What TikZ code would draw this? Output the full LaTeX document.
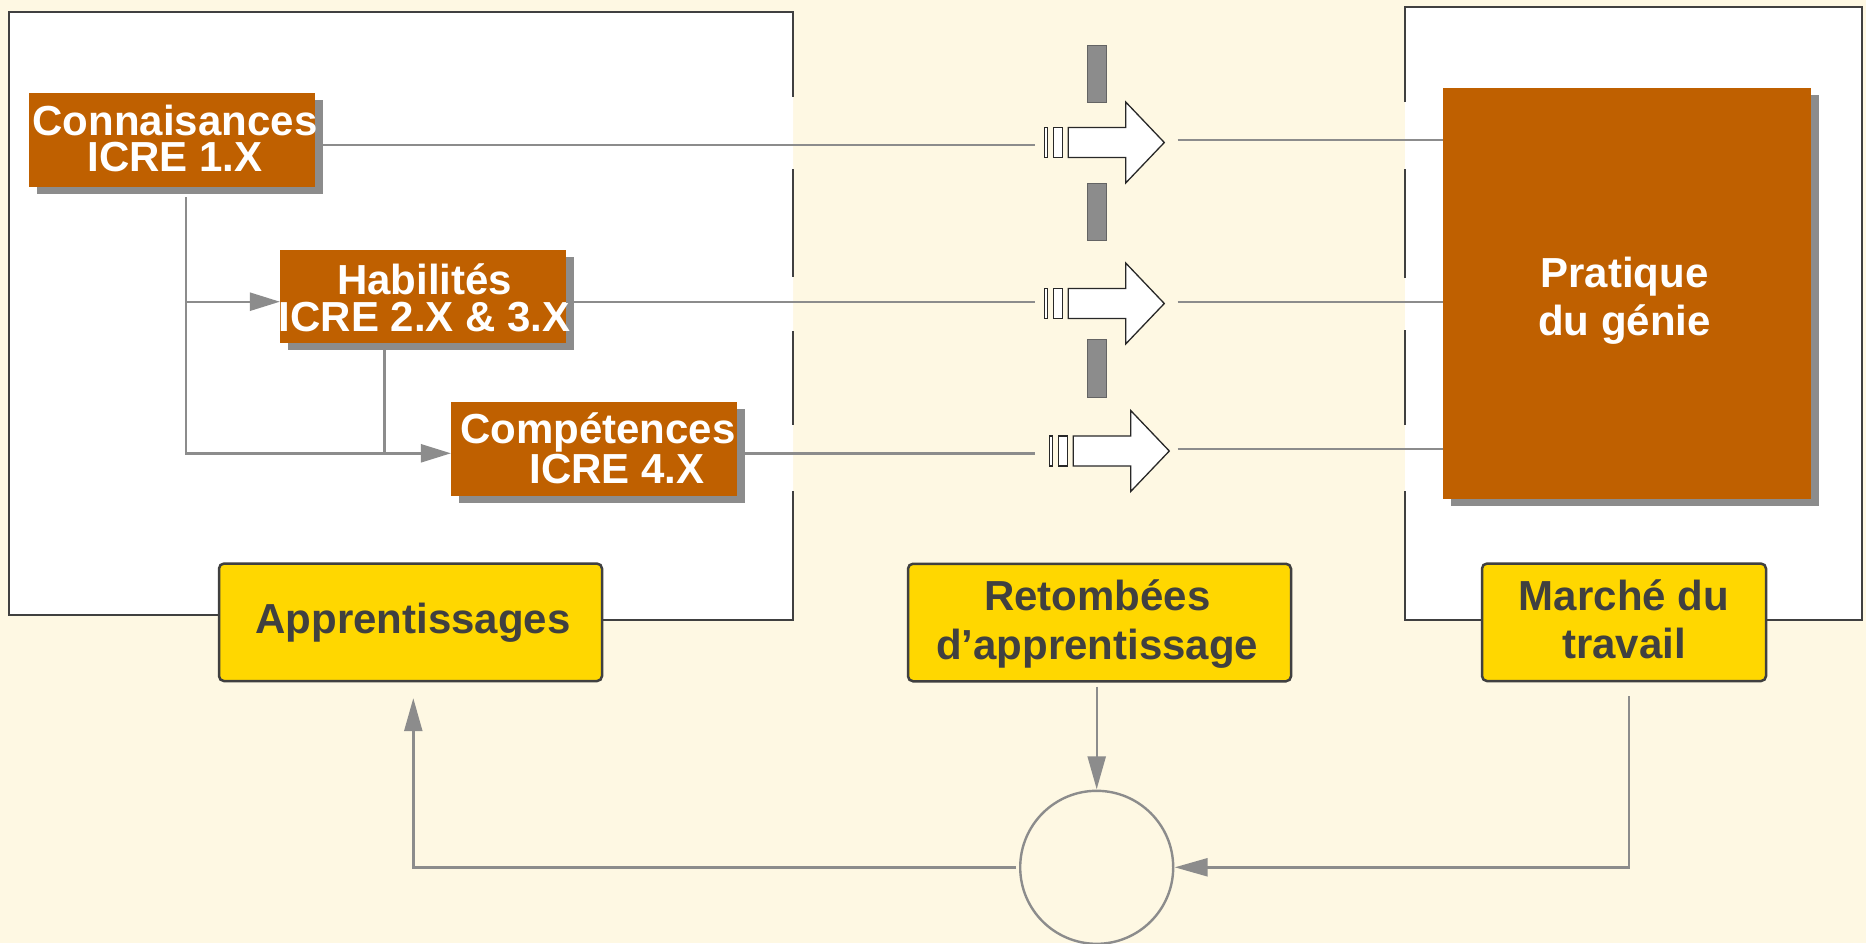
\documentclass[tikz,border=0pt]{standalone}
\usepackage{fontspec}
\setmainfont{Liberation Sans}
\usetikzlibrary{arrows.meta,shadows}
\definecolor{bg}{RGB}{254,248,227}
\definecolor{boxbrown}{RGB}{191,96,0}
\definecolor{shadowgray}{RGB}{140,140,140}
\definecolor{linegray}{RGB}{140,140,140}
\definecolor{darkline}{RGB}{64,64,64}
\definecolor{goldfill}{RGB}{255,215,0}
\definecolor{blockgray}{RGB}{140,140,140}
\definecolor{blockedge}{RGB}{100,100,100}
\definecolor{arrowedge}{RGB}{40,40,40}
\tikzset{
  barrow/.pic={
    \filldraw[fill=white, draw=arrowedge, line width=1.3pt] (-24,-15) rectangle (-20.6,15);
    \filldraw[fill=white, draw=arrowedge, line width=1.3pt] (-15,-15) rectangle (-5.6,15);
    \filldraw[fill=white, draw=arrowedge, line width=1.3pt, line join=miter]
      (0,-15) -- (57.4,-15) -- (57.4,-40.5) -- (96,0) -- (57.4,40.5) -- (57.4,15) -- (0,15) -- cycle;
  }
}
\begin{document}
\begin{tikzpicture}[x=1pt,y=-1pt,
  brownbox/.style={rectangle, fill=boxbrown, inner sep=0pt, outer sep=0pt,
    drop shadow={shadow xshift=8pt, shadow yshift=-7pt, fill=shadowgray, opacity=1}},
  wtxt/.style={text=white, align=center, inner sep=0pt},
  ybox/.style={rectangle, rounded corners=5pt, fill=goldfill, draw=darkline, line width=2.5pt,
    inner sep=0pt, outer sep=0pt, minimum height=117.5pt},
  dtxt/.style={text=darkline, align=center, inner sep=0pt},
  conn/.style={draw=linegray, line width=2.4pt},
  tipL/.style={-{Triangle[length=30pt,width=18pt]}},
  tipB/.style={-{Triangle[length=33pt,width=18pt]}, shorten >=1.5pt},
  frame/.style={draw=darkline, line width=2.5pt},
  block/.style={fill=blockgray, draw=blockedge, line width=1pt}
]
\useasboundingbox (0,0) rectangle (1866,943);
\fill[bg] (0,0) rectangle (1866,943);

% white frames
\fill[white] (9,12) -- (793,12) -- (793,620) -- (410,620) -- (410,615) -- (9,615) -- cycle;
\fill[white] (1405,7) rectangle (1862,620);
\draw[frame] (218,615) -- (9,615) -- (9,12) -- (793,12) -- (793,97);
\draw[frame] (793,169) -- (793,277);
\draw[frame] (793,331) -- (793,425);
\draw[frame] (793,491) -- (793,620) -- (603,620);
\draw[frame] (1481,620) -- (1405,620) -- (1405,491);
\draw[frame] (1405,425) -- (1405,330);
\draw[frame] (1405,278) -- (1405,169);
\draw[frame] (1405,102) -- (1405,7) -- (1862,7) -- (1862,620) -- (1767,620);

% brown boxes
\node[brownbox, minimum width=286pt, minimum height=93.4pt] (conn) at (171.9,140) {};
\node[brownbox, minimum width=286pt, minimum height=93.3pt] (hab) at (422.9,296.7) {};
\node[brownbox, minimum width=286pt, minimum height=93.4pt] (comp) at (593.9,449) {};
\node[brownbox, minimum width=368pt, minimum height=410.7pt] (prat) at (1627,293.3) {};

\node[wtxt, font=\bfseries\fontsize{42}{35.7}\selectfont] (connT) at (175,138.6) {Connaisances\\ICRE 1.X};
\node[wtxt, font=\bfseries\fontsize{42}{36.7}\selectfont] (habT) at (424.6,298.1) {Habilités\\ICRE 2.X \& 3.X};
\node[wtxt, font=\bfseries\fontsize{42}{40}\selectfont] (compT) at (598,448) {Compétences\\\hspace*{38pt}ICRE 4.X};
\node[wtxt, font=\bfseries\fontsize{42}{47.6}\selectfont] (pratT) at (1624.5,301) {Pratique\\du génie};

% gray blocks
\filldraw[block] (1087.3,45) rectangle (1106.7,102.3);
\filldraw[block] (1087.3,183) rectangle (1106.7,240.3);
\filldraw[block] (1087.3,339.7) rectangle (1106.7,397);

% block arrows
\pic at (1068.3,142.5) {barrow};
\pic at (1068.3,303.5) {barrow};
\pic at (1073.3,451) {barrow};

% connectors left
\coordinate (a1in) at (1035,145);
\coordinate (a2in) at (1035,301.7);
\coordinate (a3in) at (1035,453.3);
\draw[conn] (conn.east |- a1in) -- (a1in);
\draw[conn] (hab.east |- a2in) -- (a2in);
\draw[conn] (comp.east |- a3in) -- (a3in);

\coordinate (a1out) at (1177.7,140);
\coordinate (a2out) at (1177.7,301.7);
\coordinate (a3out) at (1177.7,449);
\draw[conn] (a1out) -- (a1out -| prat.west);
\draw[conn] (a2out) -- (a2out -| prat.west);
\draw[conn] (a3out) -- (a3out -| prat.west);

\coordinate (kTop) at (185.7,197.3);
\coordinate (kMid) at (185.7,301.7);
\coordinate (kBot) at (185.7,453.3);
\coordinate (hBot) at (384.4,350);
\draw[conn, tipL] (kTop) -- (kBot) -- (comp.west |- kBot);
\draw[conn, tipL] (kMid) -- (hab.west |- kMid);
\draw[conn] (hBot) -- (hBot |- kBot);

% yellow boxes
\node[ybox, minimum width=383pt] (appr) at (410.5,622.3) {};
\node[dtxt, font=\bfseries\fontsize{42}{48}\selectfont] (apprT) at (413,623.2) {Apprentissages};
\node[ybox, minimum width=383pt] (retomb) at (1099.5,622.5) {};
\node[dtxt, font=\bfseries\fontsize{42}{48.3}\selectfont] (retombT) at (1097.2,624) {Retombées\\d’apprentissage};
\node[ybox, minimum width=284pt] (marche) at (1624,622.3) {};
\node[dtxt, font=\bfseries\fontsize{42}{48.3}\selectfont] (marcheT) at (1624,619.6) {Marché du\\travail};

% circle
\node[circle, draw=linegray, line width=2.4pt, minimum size=153pt, inner sep=0pt, outer sep=0pt] (circ) at (1096.7,867.3) {};

% bottom connectors
\coordinate (rs) at (1096.7,686.7);
\draw[conn, tipB] (rs) -- (circ.north);
\coordinate (ms) at (1628.7,696);
\draw[conn, tipB] (ms) -- (ms |- circ.east) -- (circ.east);
\coordinate (cw) at (1016,867.3);
\coordinate (at) at (413.3,696.7);
\draw[conn, tipB] (cw) -- (cw -| at) -- (at);
\end{tikzpicture}
\end{document}
